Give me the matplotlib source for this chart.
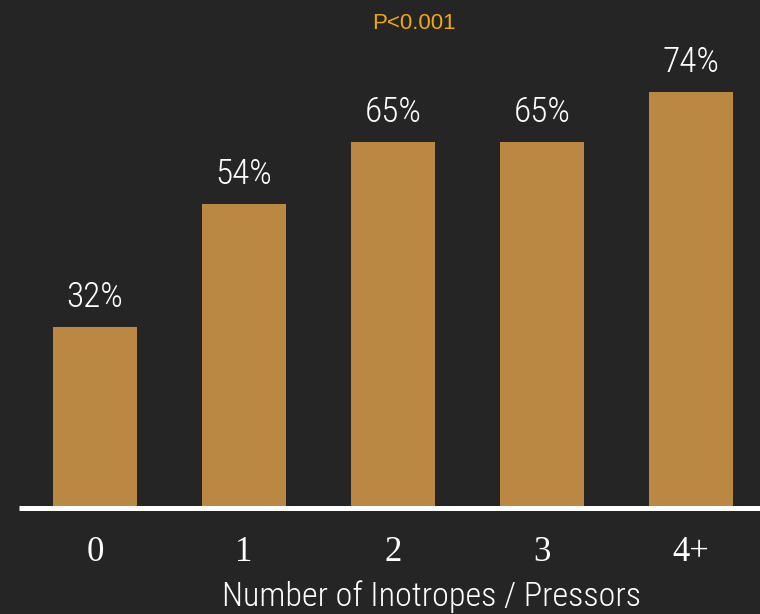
import matplotlib.pyplot as plt
from matplotlib.lines import Line2D

# percent of patients by number of inotropes / pressors
categories = ['0', '1', '2', '3', '4+']
percents = [32, 54, 65, 65, 74]
p_text = 'P<0.001'

bg = '#252525'
bar_color = '#BB8843'

fig = plt.figure(figsize=(7.6, 6.14), dpi=100)
fig.patch.set_facecolor(bg)

ax = fig.add_axes([20.5 / 760, 107 / 614, 745 / 760, 505 / 614])
ax.set_facecolor(bg)

xs = list(range(len(categories)))
ax.bar(xs, percents, width=0.564, color=bar_color, zorder=2)

ax.set_xlim(-0.5, 4.5)
ax.set_ylim(0, 90)

# value labels above each bar
narrow = ['Roboto Condensed', 'Liberation Sans']
for x, v in zip(xs, percents):
    ax.annotate(f'{v}%', xy=(x, v), xytext=(0, 14.5), textcoords='offset points',
                ha='center', va='baseline', color='white', fontsize=25.5,
                family=narrow, weight='light')

# category labels under the base line
ax.set_xticks(xs)
ax.set_xticklabels(categories, family=['Liberation Serif'], fontsize=25, color='white')
ax.tick_params(axis='x', length=0, pad=21)
ax.set_yticks([])
for s in ax.spines.values():
    s.set_visible(False)

# thick white base line running to the right edge
y_line = 1 - 507.5 / 614
fig.add_artist(Line2D([19 / 760, 1], [y_line, y_line], transform=fig.transFigure,
                      color='white', linewidth=3.6, solid_capstyle='butt'))

fig.text(431 / 760, 1 - 606 / 614, 'Number of Inotropes / Pressors', ha='center',
         va='baseline', color='white', fontsize=24.6, family=narrow, weight='light')

fig.text(413.5 / 760, 1 - 29 / 614, p_text, ha='center', va='baseline',
         color='#F0A810', fontsize=16, family=['Liberation Sans'])

fig.savefig('out.png', dpi=100, facecolor=bg)
